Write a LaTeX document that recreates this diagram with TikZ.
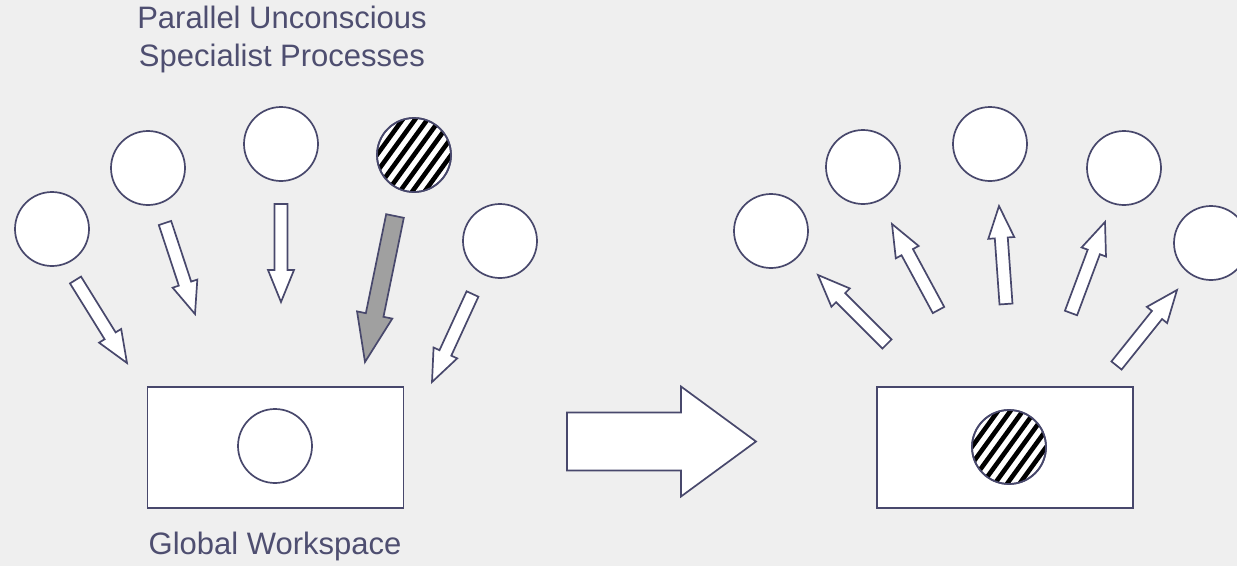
\documentclass[tikz,border=0pt]{standalone}
\usepackage{fontspec}
\setmainfont{Liberation Sans}
\usetikzlibrary{calc}

\definecolor{bgcol}{RGB}{239,239,239}
\definecolor{linecol}{RGB}{72,72,108}
\definecolor{textcol}{RGB}{78,78,112}
\definecolor{bigfill}{RGB}{160,160,160}

\tikzset{
  proc/.style={circle, draw=linecol, line width=1.7pt, fill=white, minimum size=74pt, inner sep=0pt},
  wsbox/.style={rectangle, draw=linecol, line width=1.7pt, fill=white, minimum width=256pt, minimum height=121pt, inner sep=0pt},
  blockarrow/.style={draw=linecol, line width=1.7pt, fill=white, line join=miter},
  caption/.style={text=textcol, font=\fontsize{31}{38}\selectfont, align=center}
}

% block arrow from #2 (tail) to #3 (tip): shaft half width #4, head half width #5, head length #6
\newcommand{\blockarrow}[6][]{%
  \coordinate (neck) at ($(#3)!#6!(#2)$);
  \draw[blockarrow, #1] ($(#2)!#4!90:(#3)$) -- ($(neck)!#4!90:(#3)$) -- ($(neck)!#5!90:(#3)$) -- (#3)
    -- ($(neck)!#5!-90:(#3)$) -- ($(neck)!#4!-90:(#3)$) -- ($(#2)!#4!-90:(#3)$) -- cycle;
}

% black stripes inside a circle node
\newcommand{\hatchcircle}[1]{%
  \begin{scope}
    \clip (#1.center) circle (37pt);
    \foreach \k in {-5,...,5}
      \draw[black, line width=4.6pt] ($(#1.center)+(\k*8.1,\k*5.9)$) +(-48,66) -- +(48,-66);
  \end{scope}
  \draw[linecol, line width=1.7pt] (#1.center) circle (37pt);
}

\begin{document}
\begin{tikzpicture}[x=1pt, y=-1pt]
    \useasboundingbox (0,0) rectangle (1237,566);
    \fill[bgcol] (0,0) rectangle (1237,566);

    % Labels
    \node[caption] (title) at (282,39) {Parallel Unconscious\\Specialist Processes};
    \node[caption] (wslabel) at (275,546) {Global Workspace};

    % Left: specialist processes
    \node[proc] (spec1) at (52,229) {};
    \node[proc] (spec2) at (148,168) {};
    \node[proc] (spec3) at (281,144) {};
    \node[proc] (spec4) at (414,155) {};
    \node[proc] (spec5) at (500,241) {};
    \hatchcircle{spec4}

    % Left: global workspace
    \node[wsbox] (wsleft) at (275.5,447.5) {};
    \node[proc] (wsitem) at (275,446) {};

    % Arrows into the workspace
    \coordinate (in1a) at (75.5,280);  \coordinate (in1b) at (127,363);
    \coordinate (in2a) at (165,223);   \coordinate (in2b) at (195,314);
    \coordinate (in3a) at (281,204);   \coordinate (in3b) at (281,302);
    \coordinate (in4a) at (395,216);   \coordinate (in4b) at (365,362);
    \coordinate (in5a) at (472.5,294); \coordinate (in5b) at (432,382);
    \blockarrow{in1a}{in1b}{6.5pt}{13pt}{32pt}
    \blockarrow{in2a}{in2b}{6.5pt}{13pt}{32pt}
    \blockarrow{in3a}{in3b}{6.5pt}{13pt}{32pt}
    \blockarrow[fill=bigfill]{in4a}{in4b}{9pt}{18pt}{48pt}
    \blockarrow{in5a}{in5b}{6.5pt}{13pt}{32pt}

    % Big arrow
    \coordinate (bigtail) at (567,441.5);
    \coordinate (bigtip) at (756,441.5);
    \blockarrow{bigtail}{bigtip}{29pt}{55pt}{75pt}

    % Right: global workspace
    \node[wsbox] (wsright) at (1005,447.5) {};
    \node[proc] (wswinner) at (1009,447) {};
    \hatchcircle{wswinner}

    % Right: specialist processes
    \node[proc] (recv1) at (771,231) {};
    \node[proc] (recv2) at (863,167) {};
    \node[proc] (recv3) at (990,144) {};
    \node[proc] (recv4) at (1124,168) {};
    \node[proc] (recv5) at (1211,243) {};

    % Arrows out of the workspace
    \coordinate (out1a) at (887,344);    \coordinate (out1b) at (818,275);
    \coordinate (out2a) at (938.5,310);  \coordinate (out2b) at (892,224);
    \coordinate (out3a) at (1006,304);   \coordinate (out3b) at (999,206);
    \coordinate (out4a) at (1071,313);   \coordinate (out4b) at (1105,222);
    \coordinate (out5a) at (1116.5,365.5); \coordinate (out5b) at (1177,290);
    \blockarrow{out1a}{out1b}{6.5pt}{13pt}{32pt}
    \blockarrow{out2a}{out2b}{6.5pt}{13pt}{32pt}
    \blockarrow{out3a}{out3b}{6.5pt}{13pt}{32pt}
    \blockarrow{out4a}{out4b}{6.5pt}{13pt}{32pt}
    \blockarrow{out5a}{out5b}{6.5pt}{13pt}{32pt}
\end{tikzpicture}
\end{document}
